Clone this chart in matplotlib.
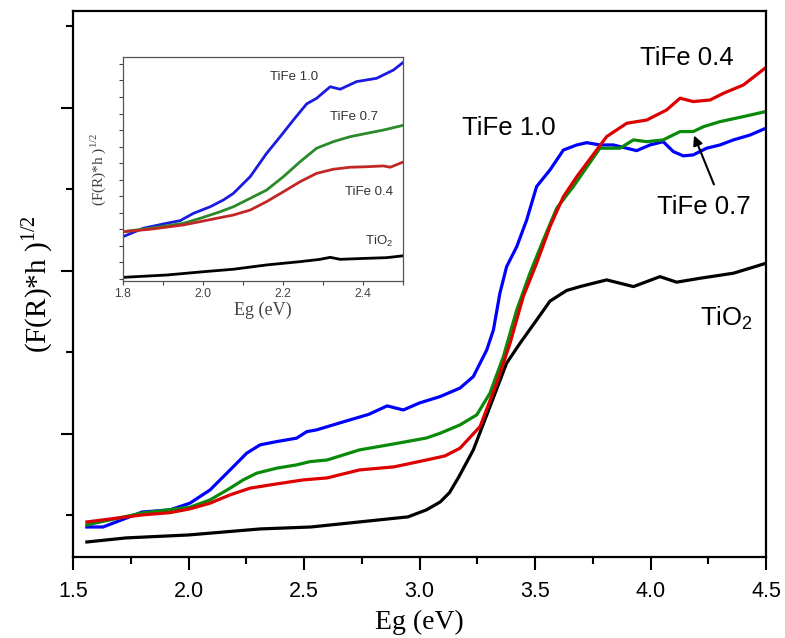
import matplotlib.pyplot as plt
from matplotlib.ticker import MultipleLocator

plt.rcParams['font.family'] = ['Liberation Sans', 'DejaVu Sans']
plt.rcParams['mathtext.fontset'] = 'custom'
plt.rcParams['mathtext.rm'] = 'Liberation Sans'

# main spectra (Eg in eV, arbitrary units)
tio2_e = [1.56, 1.73, 2.0, 2.31, 2.53, 2.74, 2.95, 3.03, 3.09, 3.13, 3.17, 3.233, 3.305,
          3.377, 3.435, 3.507, 3.565, 3.637, 3.695, 3.81, 3.926, 4.041, 4.113, 4.214,
          4.359, 4.5]
tio2_y = [0.337, 0.362, 0.380, 0.417, 0.429, 0.460, 0.491, 0.534, 0.583, 0.64, 0.736,
          0.902, 1.167, 1.434, 1.556, 1.699, 1.815, 1.880, 1.904, 1.945, 1.904, 1.965,
          1.931, 1.955, 1.986, 2.047]

fe10_e = [1.56, 1.63, 1.80, 1.92, 2.006, 2.093, 2.18, 2.252, 2.31, 2.382, 2.468, 2.512,
          2.555, 2.67, 2.78, 2.86, 2.93, 3.00, 3.089, 3.175, 3.233, 3.291, 3.32, 3.348,
          3.377, 3.421, 3.464, 3.507, 3.565, 3.623, 3.681, 3.724, 3.781, 3.839, 3.94,
          3.998, 4.055, 4.099, 4.142, 4.185, 4.243, 4.301, 4.359, 4.431, 4.5]
fe10_y = [0.429, 0.429, 0.521, 0.534, 0.575, 0.656, 0.779, 0.882, 0.933, 0.953, 0.974,
          1.014, 1.025, 1.074, 1.12, 1.172, 1.147, 1.190, 1.229, 1.281, 1.352, 1.515,
          1.638, 1.863, 2.026, 2.149, 2.313, 2.518, 2.620, 2.742, 2.773, 2.787, 2.773,
          2.773, 2.738, 2.773, 2.793, 2.732, 2.706, 2.712, 2.753, 2.773, 2.804, 2.834,
          2.876]

fe07_e = [1.56, 1.80, 2.006, 2.093, 2.18, 2.237, 2.295, 2.382, 2.468, 2.526, 2.60, 2.74,
          2.89, 3.03, 3.089, 3.175, 3.248, 3.305, 3.363, 3.421, 3.478, 3.536, 3.594,
          3.666, 3.781, 3.868, 3.926, 3.984, 4.055, 4.128, 4.185, 4.229, 4.301, 4.402,
          4.496]
fe07_y = [0.442, 0.515, 0.550, 0.595, 0.667, 0.718, 0.759, 0.790, 0.810, 0.830, 0.840,
          0.902, 0.939, 0.975, 1.004, 1.055, 1.117, 1.250, 1.474, 1.761, 1.986, 2.190,
          2.385, 2.518, 2.753, 2.753, 2.804, 2.793, 2.804, 2.855, 2.855, 2.885, 2.916,
          2.947, 2.977]

fe04_e = [1.56, 1.80, 1.92, 2.006, 2.093, 2.18, 2.266, 2.353, 2.497, 2.60, 2.74, 2.89,
          3.03, 3.11, 3.175, 3.262, 3.334, 3.392, 3.449, 3.507, 3.565, 3.623, 3.681,
          3.81, 3.897, 3.984, 4.07, 4.128, 4.185, 4.258, 4.316, 4.402, 4.496]
fe04_y = [0.460, 0.503, 0.517, 0.540, 0.575, 0.626, 0.667, 0.687, 0.718, 0.730, 0.779,
          0.798, 0.840, 0.865, 0.912, 1.045, 1.311, 1.556, 1.842, 2.047, 2.272, 2.456,
          2.579, 2.824, 2.906, 2.926, 2.988, 3.060, 3.039, 3.049, 3.090, 3.141, 3.244]

# inset (zoomed 1.8 - 2.5 eV)
in_fe10_e = [1.80, 1.851, 1.909, 1.943, 1.976, 2.018, 2.051, 2.076, 2.118, 2.159, 2.193,
             2.226, 2.259, 2.284, 2.318, 2.343, 2.384, 2.434, 2.476, 2.503]
in_fe10_y = [1.55, 2.06, 2.36, 2.52, 2.96, 3.36, 3.77, 4.17, 5.18, 6.59, 7.6, 8.61, 9.58,
             9.92, 10.62, 10.47, 10.93, 11.13, 11.63, 12.14]
in_fe07_e = [1.80, 1.868, 1.951, 1.993, 2.043, 2.076, 2.118, 2.159, 2.201, 2.243, 2.284,
             2.326, 2.368, 2.409, 2.451, 2.503]
in_fe07_y = [1.85, 2.06, 2.36, 2.66, 3.06, 3.36, 3.87, 4.37, 5.18, 6.09, 6.9, 7.3, 7.6,
             7.8, 8.0, 8.3]
in_fe04_e = [1.80, 1.868, 1.951, 1.993, 2.034, 2.076, 2.118, 2.159, 2.201, 2.243, 2.284,
             2.326, 2.368, 2.409, 2.451, 2.468, 2.503]
in_fe04_y = [1.85, 2.0, 2.26, 2.46, 2.66, 2.86, 3.16, 3.67, 4.27, 4.88, 5.38, 5.63, 5.75,
             5.78, 5.83, 5.75, 6.09]
in_tio2_e = [1.80, 1.909, 2.001, 2.076, 2.159, 2.243, 2.293, 2.318, 2.343, 2.409, 2.459,
             2.503]
in_tio2_y = [-0.91, -0.77, -0.57, -0.42, -0.16, 0.04, 0.18, 0.30, 0.18, 0.24, 0.28, 0.40]

fig = plt.figure(figsize=(7.85, 6.38), dpi=100)
ax = fig.add_axes([0.093, 0.127, 0.8828, 0.8558])

lw = 2.3
ax.plot(tio2_e, tio2_y, color='black', lw=lw)
ax.plot(fe10_e, fe10_y, color='#0000ff', lw=lw)
ax.plot(fe07_e, fe07_y, color='#0a8a0a', lw=lw)
ax.plot(fe04_e, fe04_y, color='#dd0000', lw=lw)

ax.set_xlim(1.5, 4.5)
ax.set_ylim(0.245, 3.595)
ax.xaxis.set_major_locator(MultipleLocator(0.5))
ax.xaxis.set_minor_locator(MultipleLocator(0.25))
ax.yaxis.set_major_locator(MultipleLocator(1))
ax.yaxis.set_minor_locator(MultipleLocator(0.5))
ax.tick_params(which='major', direction='out', length=9, width=1.5, labelsize=15.5, pad=8)
ax.tick_params(which='minor', direction='out', length=5, width=1.5)
ax.tick_params(axis='y', labelleft=False)
for s in ax.spines.values():
    s.set_linewidth(1.6)

ax.set_xlabel('Eg (eV)', family='Liberation Serif', fontsize=20, labelpad=6)
ax.set_ylabel('(F(R)*h )$^{\\mathregular{1/2}}$', family='Liberation Serif', fontsize=21,
              labelpad=4)

fs = 18.5
ax.text(3.955, 3.307, 'TiFe 0.4', fontsize=fs, va='center')
ax.text(3.184, 2.877, 'TiFe 1.0', fontsize=fs, va='center')
ax.text(4.028, 2.393, 'TiFe 0.7', fontsize=fs, va='center')
ax.text(4.214, 1.712, 'TiO$_2$', fontsize=fs, va='center')
ax.annotate('', xy=(4.184, 2.847), xytext=(4.279, 2.515),
            arrowprops=dict(arrowstyle='-|>', color='black', lw=1.5, mutation_scale=14))

# inset
ins = fig.add_axes([0.1567, 0.5596, 0.3567, 0.3511])
ins.plot(in_tio2_e, in_tio2_y, color='black', lw=2)
ins.plot(in_fe10_e, in_fe10_y, color='#1a1ae0', lw=2)
ins.plot(in_fe07_e, in_fe07_y, color='#2a8a2a', lw=2)
ins.plot(in_fe04_e, in_fe04_y, color='#c02828', lw=2)
ins.set_xlim(1.8, 2.5)
ins.set_ylim(-1.13, 12.42)
ins.xaxis.set_major_locator(MultipleLocator(0.2))
ins.xaxis.set_minor_locator(MultipleLocator(0.1))
ins.yaxis.set_major_locator(MultipleLocator(2))
ins.yaxis.set_minor_locator(MultipleLocator(1))
ins.tick_params(which='both', direction='out', length=3, width=0.8, colors='#444444',
                labelsize=8.8, pad=2)
ins.tick_params(axis='y', labelleft=False)
for s in ins.spines.values():
    s.set_color('#555555')
    s.set_linewidth(0.9)
ins.set_xlabel('Eg (eV)', family='Liberation Serif', fontsize=13, color='#444444', labelpad=1)
ins.set_ylabel('(F(R)*h )$^{\\mathregular{1/2}}$', family='Liberation Serif', fontsize=11,
               color='#444444', labelpad=6)
fi = 9.5
ins.text(2.168, 11.2, 'TiFe 1.0', fontsize=fi, va='center', color='#333333')
ins.text(2.318, 8.79, 'TiFe 0.7', fontsize=fi, va='center', color='#333333')
ins.text(2.355, 4.25, 'TiFe 0.4', fontsize=fi, va='center', color='#333333')
ins.text(2.405, 1.25, 'TiO$_2$', fontsize=fi, va='center', color='#333333')

fig.savefig('out.png', dpi=100)
